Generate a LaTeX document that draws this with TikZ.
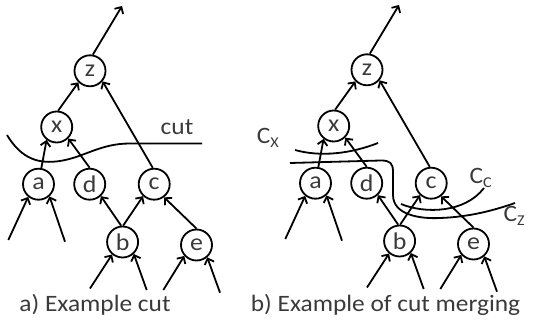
\documentclass[tikz,border=0pt]{standalone}
\usepackage{fontspec}
\setmainfont{Carlito}[FakeStretch=1.08]
\usetikzlibrary{arrows.meta}
\definecolor{txt}{HTML}{3A3A3A}
\newcommand\subl[1]{\raisebox{-4pt}{\fontsize{15}{15}\selectfont #1}}
\begin{document}
\begin{tikzpicture}[x=1pt,y=-1pt,
  vtx/.style={circle,draw,line width=1.8pt,minimum size=31pt,inner sep=0pt,text=txt,font=\fontsize{24}{24}\selectfont},
  edge/.style={line width=1.8pt,-{Straight Barb[length=5pt,width=10pt]}},
  cutline/.style={line width=1.8pt},
  lbl/.style={text=txt,inner sep=0pt,font=\fontsize{23.5}{24}\selectfont},
]
\useasboundingbox (0,0) rectangle (533,323);
\foreach \p/\dx/\dy in {L/0/0,R/277/-1}{
 \begin{scope}[shift={(\dx,\dy)}]
  \node[vtx] (\p z) at (90,70.8) {z};
  \node[vtx] (\p x) at (56.7,127) {x};
  \node[vtx] (\p a) at (38.5,184.2) {a};
  \node[vtx] (\p d) at (89.7,184.2) {d};
  \node[vtx] (\p c) at (154.2,184.2) {c};
  \node[vtx] (\p b) at (122.6,242) {b};
  \node[vtx] (\p e) at (196.5,245) {e};
  \coordinate (\p top) at (122,6);
  \coordinate (\p a1) at (8.3,240);
  \coordinate (\p a2) at (65,241.7);
  \coordinate (\p b1) at (90,288.5);
  \coordinate (\p b2) at (146.7,290);
  \coordinate (\p e1) at (163.3,290);
  \coordinate (\p e2) at (220,292.7);
  \draw[edge] (\p z.80) -- (\p top);
  \draw[edge] (\p x.85) -- (\p z.225);
  \draw[edge] (\p c.95) -- (\p z.-40);
  \draw[edge] (\p a.80) -- (\p x.232);
  \draw[edge] (\p d.90) -- (\p x.315);
  \draw[edge] (\p b.95) -- (\p d.313);
  \draw[edge] (\p b.88) -- (\p c.227);
  \draw[edge] (\p e.90) -- (\p c.307);
  \draw[edge] (\p a1) -- (\p a.231);
  \draw[edge] (\p a2) -- (\p a.312);
  \draw[edge] (\p b1) -- (\p b.230);
  \draw[edge] (\p b2) -- (\p b.313);
  \draw[edge] (\p e1) -- (\p e.222);
  \draw[edge] (\p e2) -- (\p e.311);
 \end{scope}
}
% left cut
\draw[cutline] (7,135) .. controls (22,160) and (40,164) .. (60,161) .. controls (85,157) and (100,143.5) .. (130,143.5) -- (202,143.5);
\node[lbl,anchor=base] (cutlbl) at (177,135) {cut};
% right cuts
\draw[cutline] (295,150) .. controls (320,157) and (350,154) .. (378,143);
\draw[cutline] (290,163) -- (381,160.5) .. controls (390,160.5) and (393,163) .. (393,172) -- (393,195) .. controls (393,215) and (420,219) .. (440,218) .. controls (470,217) and (495,210) .. (515,203);
\draw[cutline] (401,204) .. controls (425,214) and (465,213) .. (484,188);
\node[lbl,anchor=base west] (cx) at (256.7,143.3) {C\subl{X}};
\node[lbl,anchor=base west] (cc) at (469.3,183.3) {C\subl{C}};
\node[lbl,anchor=base west] (cz) at (503.3,221.7) {C\subl{Z}};
% captions
\node[lbl,anchor=base west] (capa) at (19.3,311.7) {a) Example cut};
\node[lbl,anchor=base west] (capb) at (250.7,311.7) {b) Example of cut merging};
\end{tikzpicture}
\end{document}
